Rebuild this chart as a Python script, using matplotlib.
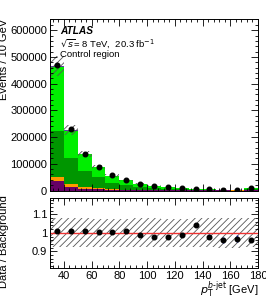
import numpy as np
import matplotlib
matplotlib.use('Agg')
import matplotlib.pyplot as plt
from matplotlib.ticker import MultipleLocator

plt.rcParams['font.family'] = ['Liberation Sans', 'DejaVu Sans']
plt.rcParams['hatch.linewidth'] = 0.6

# bin edges in GeV (last bin includes overflow)
edges = [30, 40, 50, 60, 70, 80, 90, 100, 110, 120, 130, 140, 150, 160, 170, 180]

# stacked backgrounds, bottom to top
bkg_purple = [35000, 14000, 7500, 4200, 2500, 1600, 1000, 700, 500, 350, 250, 180, 130, 100, 400]
bkg_orange = [16000, 10000, 5500, 3500, 2200, 1400, 900, 600, 400, 300, 200, 150, 110, 80, 330]
bkg_dkgreen = [172000, 98000, 61000, 42300, 25300, 18000, 12100, 8500, 6200, 4150, 2850, 2070, 1460, 1070, 4870]
bkg_violet = [4000, 2000, 1200, 800, 500, 350, 240, 170, 120, 80, 55, 40, 30, 20, 90]
bkg_total = [466000, 226000, 137000, 87000, 56000, 38000, 26000, 18000, 13000, 8800, 6000, 4300, 3100, 2300, 10200]

# data / background
ratio = [1.011, 1.012, 1.009, 1.005, 1.005, 1.012, 0.989, 0.975, 0.975, 0.990,
         1.042, 0.980, 0.962, 0.969, 0.962]
ratio_err = [0.0015, 0.002, 0.003, 0.0035, 0.004, 0.005, 0.006, 0.0075, 0.009, 0.011,
             0.013, 0.015, 0.018, 0.021, 0.010]
rel_unc = [0.078, 0.078, 0.078, 0.077, 0.077, 0.077, 0.078, 0.078, 0.077, 0.077,
           0.078, 0.079, 0.080, 0.080, 0.079]

edges = np.array(edges)
centers = 0.5 * (edges[:-1] + edges[1:])
total = np.array(bkg_total, dtype=float)
bkg_light = total - np.array(bkg_purple) - np.array(bkg_orange) - np.array(bkg_dkgreen) - np.array(bkg_violet)
data = total * np.array(ratio)
unc = np.array(rel_unc)

fig = plt.figure(figsize=(2.66, 3.01), dpi=100)
ax1 = fig.add_axes([0.188, 0.367, 0.782, 0.570])
ax2 = fig.add_axes([0.188, 0.110, 0.782, 0.233])

# stacked histogram
bottom = np.zeros(len(centers))
for vals, col in [(bkg_purple, '#660066'), (bkg_orange, '#ff9900'),
                  (bkg_dkgreen, '#009600'), (bkg_light, '#00ee00'),
                  (bkg_violet, '#6633aa')]:
    ax1.bar(edges[:-1], vals, width=10, bottom=bottom, align='edge',
            color=col, linewidth=0)
    bottom = bottom + np.array(vals)

# uncertainty hatch
lo = np.append(total * (1 - unc), total[-1] * (1 - unc[-1]))
hi = np.append(total * (1 + unc), total[-1] * (1 + unc[-1]))
ax1.fill_between(edges, lo, hi, step='post', facecolor='none',
                 edgecolor='#555555', hatch='/////', linewidth=0)

ax1.plot(centers, data, 'o', color='black', markersize=3.3)

ax1.set_xlim(30, 180)
ax1.set_ylim(0, 642000)
ax1.set_ylabel('Events / 10 GeV', fontsize=8, loc='top')
ax1.yaxis.set_label_coords(-0.195, 1.0)
ax1.yaxis.set_major_locator(MultipleLocator(100000))
ax1.yaxis.set_minor_locator(MultipleLocator(20000))
ax1.xaxis.set_major_locator(MultipleLocator(20))
ax1.xaxis.set_minor_locator(MultipleLocator(4))
ax1.set_xticklabels([])

ax1.text(0.05, 0.91, 'ATLAS', transform=ax1.transAxes, fontsize=7.3,
         fontweight='bold', fontstyle='italic')
ax1.text(0.05, 0.84, r'$\sqrt{s}$= 8 TeV,  20.3 fb$^{-1}$', transform=ax1.transAxes,
         fontsize=6.8)
ax1.text(0.05, 0.78, 'Control region', transform=ax1.transAxes, fontsize=6.8)

# ratio panel
rlo = np.append(1 - unc, 1 - unc[-1])
rhi = np.append(1 + unc, 1 + unc[-1])
ax2.fill_between(edges, rlo, rhi, step='post', facecolor='none',
                 edgecolor='#555555', hatch='/////', linewidth=0)
ax2.axhline(1.0, color='#ee3333', linewidth=1)
ax2.errorbar(centers, ratio, yerr=ratio_err, fmt='o', color='black',
             ecolor='#2233cc', elinewidth=1, markersize=3.3, capsize=0)

ax2.set_xlim(30, 180)
ax2.set_ylim(0.81, 1.19)
ax2.yaxis.set_minor_locator(MultipleLocator(0.02))
ax2.xaxis.set_major_locator(MultipleLocator(20))
ax2.xaxis.set_minor_locator(MultipleLocator(4))
ax2.set_yticks([0.9, 1.0, 1.1])
ax2.set_yticklabels(['0.9', '1', '1.1'])
ax2.set_ylabel('Data / Background', fontsize=8)
ax2.yaxis.set_label_coords(-0.195, 0.37)
ax2.set_xlabel(r'$p_{\mathrm{T}}^{b\text{-jet}}$ [GeV]', fontsize=8, loc='right')
ax2.xaxis.set_label_coords(1.0, -0.165)

for ax in (ax1, ax2):
    ax.tick_params(which='both', direction='in', top=True, right=True, labelsize=8, pad=2)
    ax.tick_params(which='major', length=5, width=0.6)
    ax.tick_params(which='minor', length=2.5, width=0.6)
    for sp in ax.spines.values():
        sp.set_linewidth(0.7)

fig.savefig('out.png', dpi=100)
